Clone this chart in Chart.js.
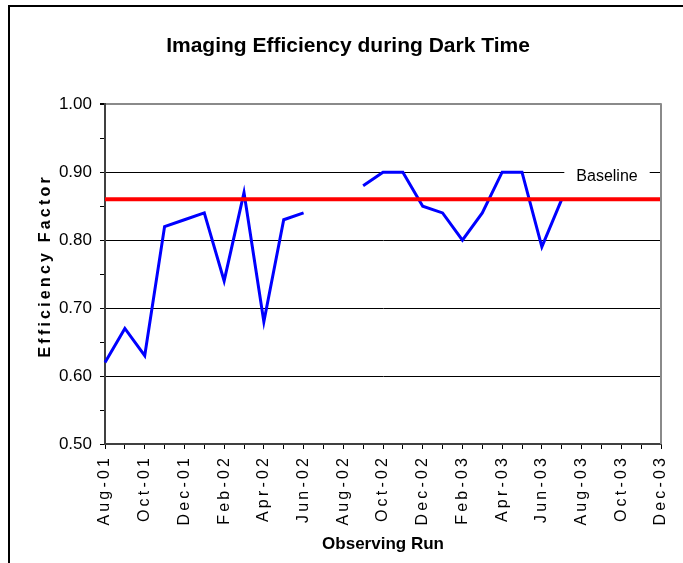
<!DOCTYPE html>
<html>
<head>
<meta charset="utf-8">
<script src="https://cdn.jsdelivr.net/npm/chart.js@4.4.0/dist/chart.umd.min.js"></script>
<style>
  html, body { margin: 0; padding: 0; background: #fff; overflow: hidden; }
  #wrap { position: relative; width: 683px; height: 563px; overflow: hidden; }
  #frame { position: absolute; left: 8px; top: 5px; width: 800px; height: 800px; border: 2px solid #000; box-sizing: border-box; pointer-events: none; }
  canvas { position: absolute; left: 0; top: 0; }
</style>
</head>
<body>
<div id="wrap">
  <div id="frame"></div>
  <canvas id="c" width="683" height="563"></canvas>
</div>
<script>
const months = ['Aug-01','Sep-01','Oct-01','Nov-01','Dec-01','Jan-02','Feb-02','Mar-02','Apr-02','May-02','Jun-02','Jul-02',
  'Aug-02','Sep-02','Oct-02','Nov-02','Dec-02','Jan-03','Feb-03','Mar-03','Apr-03','May-03','Jun-03','Jul-03',
  'Aug-03','Sep-03','Oct-03','Nov-03','Dec-03'];
const efficiency = [0.62,0.67,0.63,0.82,0.83,0.84,0.74,0.87,0.68,0.83,0.84,null,
  null,0.88,0.90,0.90,0.85,0.84,0.80,0.84,0.90,0.90,0.79,0.86,
  null,null,null,null,null];
const baseline = [0.86,0.86,0.86,0.86,0.86,0.86,0.86,0.86,0.86,0.86,0.86,0.86,
  0.86,0.86,0.86,0.86,0.86,0.86,0.86,0.86,0.86,0.86,0.86,0.86,
  0.86,0.86,0.86,0.86,0.86];
const baselineLabel = 'Baseline';
const titleText = 'Imaging Efficiency during Dark Time';
const yTitle = 'Efficiency Factor';
const xTitle = 'Observing Run';

const FONT = "'Liberation Sans', Arial, sans-serif";
const THIN = '\u2009';
const spaced = s => s.split('').join(THIN);
const spacedWords = s => s.split(' ').map(spaced).join(THIN + ' ' + THIN);

const frameAndLabel = {
  id: 'frameAndLabel',
  afterDatasetsDraw(chart) {
    const {ctx, chartArea: a} = chart;
    ctx.save();
    ctx.strokeStyle = '#8a8a8a';
    ctx.lineWidth = 2;
    ctx.beginPath();
    ctx.moveTo(a.right, a.top - 1);
    ctx.lineTo(a.right, a.bottom);
    ctx.stroke();
    const y = chart.scales.y.getPixelForValue(0.9) + 4;
    const x = a.right - 54;
    ctx.font = '16px ' + FONT;
    const w = ctx.measureText(baselineLabel).width;
    ctx.fillStyle = '#fff';
    ctx.fillRect(x - w / 2 - 12, y - 11, w + 24, 20);
    ctx.fillStyle = '#000';
    ctx.textAlign = 'center';
    ctx.textBaseline = 'middle';
    ctx.fillText(baselineLabel, x, y);
    ctx.restore();
  }
};

new Chart(document.getElementById('c'), {
  type: 'line',
  data: {
    labels: months,
    datasets: [
      { label: 'Baseline', data: baseline, borderColor: '#ff0000', borderWidth: 4, pointRadius: 0, fill: false, tension: 0 },
      { label: 'Efficiency', data: efficiency, borderColor: '#0000ff', borderWidth: 3, pointRadius: 0, fill: false, spanGaps: false, tension: 0 }
    ]
  },
  options: {
    responsive: false,
    animation: false,
    events: [],
    layout: { padding: { left: 0, right: 22, top: 0, bottom: 0 } },
    plugins: {
      legend: { display: false },
      tooltip: { enabled: false },
      title: {
        display: true,
        text: '      ' + titleText,
        color: '#000',
        font: { family: FONT, size: 21, weight: 'bold', lineHeight: 1.2 },
        padding: { top: 34, bottom: 45 }
      }
    },
    scales: {
      x: {
        type: 'category',
        offset: false,
        afterFit(s) { s.height = 119; s.paddingRight = 0; s.paddingLeft = 0; },
        border: { display: true, color: '#404040', width: 2 },
        grid: { drawOnChartArea: false, drawTicks: true, tickLength: 5, tickColor: '#000', lineWidth: 1 },
        ticks: {
          autoSkip: false, maxRotation: 90, minRotation: 90, padding: 9, color: '#000',
          font: { family: FONT, size: 16 },
          callback(v, i) { return i % 2 === 0 ? spaced(months[i]) : ''; }
        },
        title: {
          display: true, text: xTitle, color: '#000',
          font: { family: FONT, size: 17, weight: 'bold', lineHeight: 1.2 },
          padding: { top: 0, bottom: 8 }
        }
      },
      y: {
        min: 0.5, max: 1.0,
        afterFit(s) { s.width = 105; },
        border: { display: true, color: '#404040', width: 2 },
        grid: {
          drawTicks: true, tickLength: 5,
          color(ctx) {
            const v = Math.round(ctx.tick.value * 100);
            if (v === 100) return '#8a8a8a';
            if (v % 10 === 0 && v !== 50) return '#000';
            return 'rgba(0,0,0,0)';
          },
          lineWidth(ctx) { return Math.round(ctx.tick.value * 100) === 100 ? 2 : 1; },
          tickColor: '#000'
        },
        ticks: {
          stepSize: 0.05, padding: 8, color: '#000',
          font: { family: FONT, size: 17 },
          callback(v) { const r = Math.round(v * 100); return r % 10 === 0 ? (r / 100).toFixed(2) : ''; }
        },
        title: {
          display: true, text: '   ' + spacedWords(yTitle), color: '#000',
          font: { family: FONT, size: 16, weight: 'bold', lineHeight: 1.2 },
          padding: { top: 36, bottom: 0 }
        }
      }
    }
  },
  plugins: [frameAndLabel]
});
</script>
</body>
</html>
